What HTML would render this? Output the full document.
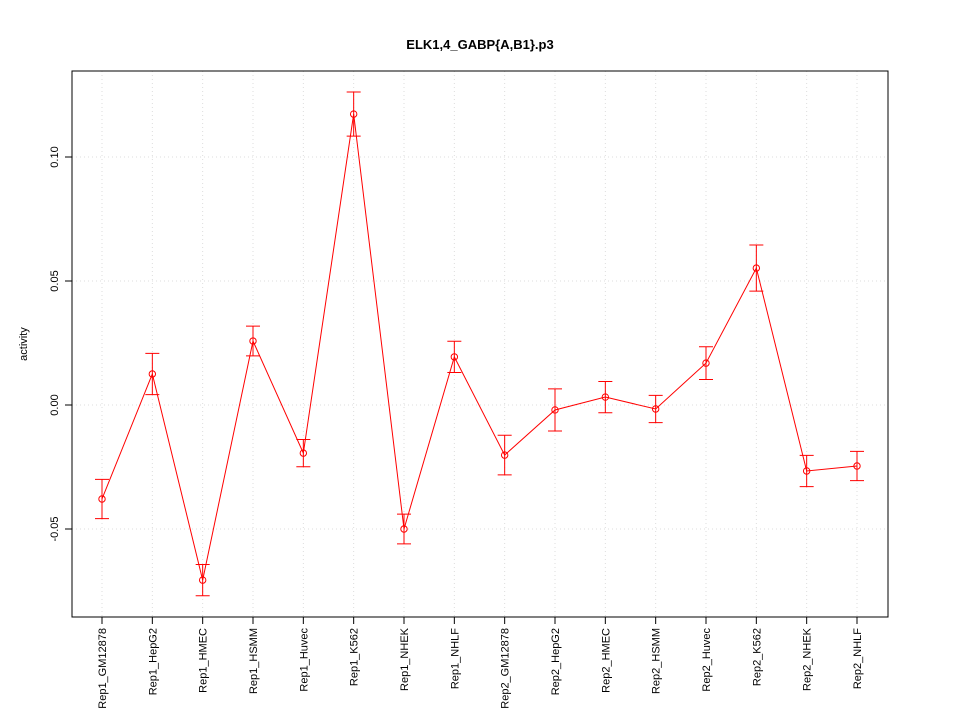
<!DOCTYPE html>
<html><head><meta charset="utf-8"><style>
body{margin:0;background:#fff;}
svg{display:block;font-family:"Liberation Sans",sans-serif;}
</style></head><body>
<svg id="chart" width="960" height="720">
<text x="480" y="49" text-anchor="middle" font-size="13" font-weight="bold">ELK1,4_GABP{A,B1}.p3</text>
<text transform="translate(27,344) rotate(-90)" text-anchor="middle" font-size="11">activity</text>
<g id="grid"></g><g id="axes"></g><g id="series"></g>
<rect x="72" y="71" width="816" height="546" fill="none" stroke="#000"/>
</svg>
<script>
const categories=["Rep1_GM12878","Rep1_HepG2","Rep1_HMEC","Rep1_HSMM","Rep1_Huvec","Rep1_K562","Rep1_NHEK","Rep1_NHLF","Rep2_GM12878","Rep2_HepG2","Rep2_HMEC","Rep2_HSMM","Rep2_Huvec","Rep2_K562","Rep2_NHEK","Rep2_NHLF"];
const values=[-0.0379,0.0125,-0.0706,0.0258,-0.0194,0.1173,-0.0500,0.0194,-0.0202,-0.0020,0.0032,-0.0016,0.0169,0.0552,-0.0266,-0.0246];
const errors=[0.0079,0.0083,0.0063,0.0060,0.0055,0.0089,0.0060,0.0063,0.0080,0.0085,0.0063,0.0055,0.0066,0.0093,0.0063,0.0059];
const yTicks=[-0.05,0.00,0.05,0.10];
const yTickLabels=["-0.05","0.00","0.05","0.10"];
const NS="http://www.w3.org/2000/svg";
function xs(i){return 102+i*(857-102)/(categories.length-1);}
function ys(v){return 405-v*2480;}
function mk(parent,tag,attrs){const e=document.createElementNS(NS,tag);for(const k in attrs)e.setAttribute(k,attrs[k]);document.getElementById(parent).appendChild(e);return e;}
categories.forEach((c,i)=>{
 const x=xs(i);
 const g=mk('grid','line',{x1:x,x2:x,y1:71,y2:617,stroke:'#ddd','stroke-dasharray':'1,3'});
 
 
 const t=mk('axes','line',{x1:x,x2:x,y1:617,y2:624,stroke:'#000'});
 
 
 const l=mk('axes','text',{transform:`translate(${x+4},628) rotate(-90)`,'text-anchor':'end','font-size':'11'});
 l.textContent=c;
 
 
});
yTicks.forEach((v,i)=>{
 const y=ys(v);
 const g=mk('grid','line',{x1:72,x2:888,y1:y,y2:y,stroke:'#ddd','stroke-dasharray':'1,3'});
 
 
 const t=mk('axes','line',{x1:65,x2:72,y1:y,y2:y,stroke:'#000'});
 
 
 const l=mk('axes','text',{transform:`translate(58,${y}) rotate(-90)`,'text-anchor':'middle','font-size':'11'});
 l.textContent=yTickLabels[i];
 
 
});
const line=mk('series','polyline',{points:values.map((v,i)=>xs(i)+','+ys(v)).join(' '),fill:'none',stroke:'#f00','stroke-width':1});


values.forEach((v,i)=>{
 const x=xs(i),yt=ys(v+errors[i]),yb=ys(v-errors[i]);
 const e=mk('series','path',{d:`M${x},${yt}V${yb}M${x-7},${yt}H${x+7}M${x-7},${yb}H${x+7}`,stroke:'#f00',fill:'none'});
 
 
 const p=mk('series','circle',{cx:x,cy:ys(v),r:3.2,fill:'none',stroke:'#f00'});
 
 
});
</script>
</body></html>
